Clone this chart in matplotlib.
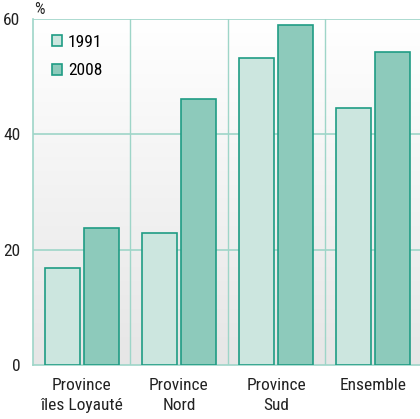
import matplotlib
matplotlib.use("Agg")
import matplotlib.pyplot as plt
import numpy as np

categories = ["Province\nîles Loyauté", "Province\nNord", "Province\nSud", "Ensemble"]
years = ["1991", "2008"]
values_1991 = [16.8, 22.9, 53.2, 44.6]
values_2008 = [23.8, 46.1, 59.0, 54.3]

plt.rcParams['font.family'] = ['Liberation Sans Narrow', 'Roboto Condensed', 'Liberation Sans', 'DejaVu Sans']
plt.rcParams['font.stretch'] = 'condensed'

fig = plt.figure(figsize=(4.2, 4.19), dpi=100)
ax = fig.add_axes([33 / 420, 1 - 365 / 419, 389 / 420, 346 / 419])

# gradient background
grad = np.linspace(0, 1, 256).reshape(-1, 1)
ax.imshow(grad, extent=[0, 1, 0, 1], transform=ax.transAxes, aspect='auto',
          cmap=matplotlib.colors.LinearSegmentedColormap.from_list('bg', ['#e6e6e6', '#ffffff']),
          origin='lower', zorder=0)

edge = '#1f9c84'
grid_c = '#9ed5c8'
x = np.arange(len(categories)) + 0.5
w = 0.36
ax.bar(x - 0.2, values_1991, w, color='#cce6df', edgecolor=edge, linewidth=1.2, zorder=3, label=years[0])
ax.bar(x + 0.2, values_2008, w, color='#8dcabb', edgecolor=edge, linewidth=1.2, zorder=3, label=years[1])

ax.set_xlim(0, 4)
ax.set_ylim(0, 60)
ax.set_yticks([0, 20, 40, 60])
ax.set_xticks(x)
ax.set_xticklabels(categories, linespacing=1.45)
for v in [1, 2, 3]:
    ax.axvline(v, color=grid_c, lw=1, zorder=1)
for v in [20, 40, 60]:
    ax.axhline(v, color=grid_c, lw=1.2, zorder=1)

for s in ['top', 'right']:
    ax.spines[s].set_visible(False)
for s in ['left', 'bottom']:
    ax.spines[s].set_color(grid_c)
    ax.spines[s].set_linewidth(1.2)
ax.tick_params(length=0, labelsize=12.5, colors='#222222')
ax.tick_params(axis='x', pad=9)
ax.tick_params(axis='y', pad=9)

fig.text(34 / 420, 1 - 9 / 419, "%", fontsize=12, color='#222222', va='center')

ax.legend(loc='upper left', bbox_to_anchor=(0.05, 0.955), frameon=False, fontsize=12.5,
          borderpad=0, borderaxespad=0,
          handlelength=0.55, handleheight=0.55, handletextpad=0.35, labelspacing=0.8)

fig.savefig("out.png", dpi=100)
